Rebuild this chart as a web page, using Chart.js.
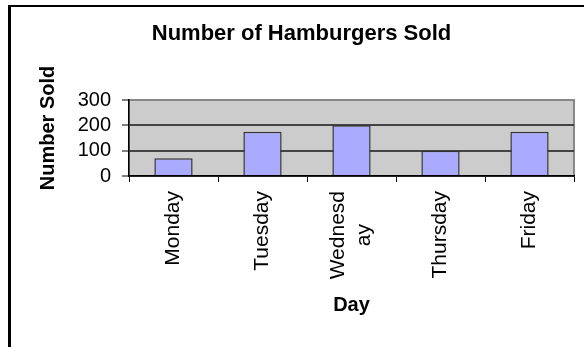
<!DOCTYPE html>
<html>
<head>
<meta charset="utf-8">
<script src="https://cdn.jsdelivr.net/npm/chart.js@4"></script>
<style>
    body { margin: 0; background: #fff; }
    #wrap { position: relative; width: 584px; height: 347px; overflow: hidden; }
    #frame { position: absolute; left: 8px; top: 5px; width: 700px; height: 500px; border-top: 2px solid #000; border-left: 3px solid #000; }
    canvas { position: absolute; left: 0; top: 0; }
</style>
</head>
<body>
<div id="wrap">
    <div id="frame"></div>
    <canvas id="chart" width="584" height="347"></canvas>
</div>
<script>
const days = ['Monday', 'Tuesday', ['Wednesd', 'ay'], 'Thursday', 'Friday']
const sold = [70, 175, 200, 100, 175]
const yTicks = [0, 100, 200, 300]

const chartTitle = 'Number of Hamburgers Sold'
const xTitle = 'Day'
const yTitle = 'Number Sold'

Chart.defaults.font.family = '"Liberation Sans", Arial, sans-serif'
Chart.defaults.color = '#000'

// grey plot area with a thin grey frame
const plotBackground = {
    id: 'plotBackground',
    beforeDraw: (chart) => {
        const { ctx, chartArea: a } = chart
        ctx.save()
        ctx.fillStyle = '#cccccc'
        ctx.fillRect(a.left, a.top, a.right - a.left, a.bottom - a.top)
        ctx.strokeStyle = '#888'
        ctx.lineWidth = 2
        ctx.strokeRect(a.left, a.top, a.right - a.left, a.bottom - a.top)
        ctx.restore()
    }
}

// wrapped day names: centre the lines around the tick and centre each line on the longest one
const centerWrappedLabels = {
    id: 'centerWrappedLabels',
    beforeDraw: (chart) => {
        const { ctx } = chart
        const items = chart.scales.x.getLabelItems(chart.chartArea)
        items.forEach(item => {
            if (!Array.isArray(item.label) || item.label.length < 2 || item._centered) return
            ctx.save()
            ctx.font = item.font.string
            const widest = Math.max(...item.label.map(l => ctx.measureText(l).width))
            ctx.restore()
            item.textOffset -= (item.label.length - 1) * item.font.lineHeight / 2
            item.options.translation[1] += widest / 2
            item.options.textAlign = 'center'
            item._centered = true
        })
    }
}

// vertical axis title, sits a bit above the middle of the axis
const yAxisTitle = {
    id: 'yAxisTitle',
    afterDraw: (chart) => {
        const { ctx, chartArea: a } = chart
        ctx.save()
        ctx.translate(48, (a.top + a.bottom) / 2 - 10)
        ctx.rotate(-Math.PI / 2)
        ctx.font = 'bold 20px "Liberation Sans", Arial, sans-serif'
        ctx.fillStyle = '#000'
        ctx.textAlign = 'center'
        ctx.textBaseline = 'middle'
        ctx.fillText(yTitle, 0, 0)
        ctx.restore()
    }
}

new Chart(document.getElementById('chart'), {
    type: 'bar',
    data: {
        labels: days,
        datasets: [{
            label: yTitle,
            data: sold,
            backgroundColor: '#aaaaff',
            borderColor: '#333',
            borderWidth: 1.5,
            barPercentage: 0.43,
            categoryPercentage: 1
        }]
    },
    options: {
        responsive: false,
        animation: false,
        devicePixelRatio: 1,
        layout: { padding: { left: 29, right: 10, top: 0, bottom: 0 } },
        plugins: {
            legend: { display: false },
            tooltip: { enabled: false },
            title: {
                display: true,
                text: chartTitle,
                color: '#000',
                font: { size: 22, weight: 'bold' },
                padding: { top: 21, bottom: 52.6 }
            }
        },
        scales: {
            x: {
                grid: { drawOnChartArea: false, tickLength: 6, tickColor: '#000', offset: true },
                border: { color: '#000', width: 1.5 },
                ticks: {
                    color: '#000',
                    font: { size: 21, lineHeight: 1.25 },
                    minRotation: 90,
                    maxRotation: 90,
                    autoSkip: false,
                    padding: 9
                },
                title: {
                    display: true,
                    text: xTitle,
                    color: '#000',
                    font: { size: 20, weight: 'bold' },
                    padding: { top: 0, bottom: 30 }
                },
                afterFit: (s) => { s.height = 171 }
            },
            y: {
                min: 0,
                max: 300,
                grid: {
                    color: (c) => c.tick && c.tick.value === 300 ? '#888' : '#444',
                    lineWidth: 2,
                    tickLength: 7,
                    tickColor: '#000',
                    tickWidth: 1
                },
                border: { color: '#000', width: 1.5 },
                ticks: { color: '#000', font: { size: 20, lineHeight: 1 }, padding: 11, autoSkip: false },
                afterBuildTicks: (s) => { s.ticks = yTicks.map(v => ({ value: v })) },
                afterFit: (s) => { s.width = 100 }
            }
        }
    },
    plugins: [plotBackground, centerWrappedLabels, yAxisTitle]
})
</script>
</body>
</html>
